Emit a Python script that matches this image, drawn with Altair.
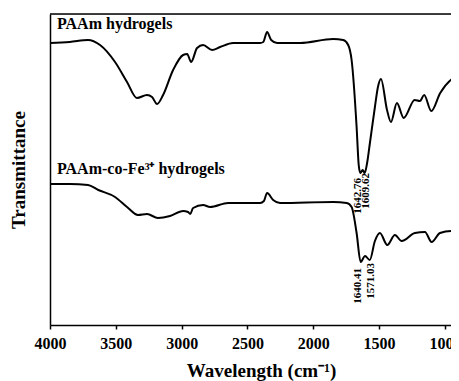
import altair as alt
import pandas as pd

# ---- data (wavenumber cm-1, transmittance a.u.) ----
paam_wn = [4000, 3850, 3711, 3620, 3506, 3415, 3340, 3263, 3225, 3187, 3141, 3065, 2989, 2958, 2928,
           2883, 2837, 2769, 2708, 2609, 2404, 2380, 2351, 2320, 2275, 2100, 1849, 1773, 1735, 1709,
           1671, 1655, 1642.76, 1625, 1609.62, 1590, 1570, 1532, 1509, 1486, 1440, 1410, 1365, 1313,
           1230, 1190, 1158, 1104, 1036, 937, 892]
paam_t = [282, 283, 285, 280, 263, 243, 227, 230, 228, 221, 230, 255, 270, 271, 263,
          277, 280, 275, 278, 282, 282, 283, 293, 285, 282, 282, 286, 285, 280, 265,
          198, 160, 152, 155, 152, 163, 182, 218, 238, 246, 215, 203, 222, 207,
          225, 224, 230, 214, 232, 247, 250]

fe_wn = [4000, 3850, 3711, 3633, 3506, 3415, 3332, 3263, 3180, 3088, 2989, 2951, 2935, 2913, 2837,
         2784, 2647, 2404, 2375, 2351, 2305, 2253, 1849, 1746, 1709, 1671, 1640.41, 1607, 1571.03,
         1532, 1494, 1438, 1380, 1329, 1228, 1152, 1101, 1038, 949, 892]
fe_t = [141, 141, 140, 135, 128, 118, 110, 111, 107, 109, 114, 113, 111, 117, 120,
        118, 122, 122, 124, 132, 125, 122, 123, 122, 118, 92, 63, 69, 65,
        84, 92, 80, 90, 84, 92, 93, 83, 92, 94, 92]

series_names = ["PAAm hydrogels", "PAAm-co-Fe\u00b3\u207a hydrogels"]
series_label_wn = [3947, 3947]
series_label_t = [296, 151]

peak_labels = ["1642.76", "1609.62", "1640.41", "1571.03"]
peak_wn = [1642.76, 1609.62, 1640.41, 1571.03]
peak_t = [147, 152, 57, 62]
peak_side = ["left", "right", "left", "right"]

x_ticks = [4000, 3500, 3000, 2500, 2000, 1500, 1000]

FONT = "Liberation Serif"
X_DOMAIN = [4000, 954]
Y_DOMAIN = [0, 311]

rows = []
for i, (w, t) in enumerate(zip(paam_wn, paam_t)):
    rows.append({"wn": w, "t": t, "series": series_names[0], "idx": i})
for i, (w, t) in enumerate(zip(fe_wn, fe_t)):
    rows.append({"wn": w, "t": t, "series": series_names[1], "idx": i})
df = pd.DataFrame(rows)

xscale = alt.Scale(domain=X_DOMAIN, nice=False, zero=False)
yscale = alt.Scale(domain=Y_DOMAIN, nice=False, zero=False)

xaxis = alt.Axis(values=x_ticks, format="d", grid=False, tickSize=4, tickColor="black",
                 domainColor="black", domainWidth=1.5, tickWidth=1.5,
                 labelFont=FONT, labelFontSize=16, labelFontWeight="bold", labelColor="black",
                 labelPadding=6, labelFlush=False,
                 title="Wavelength (cm\u207b\u00b9)", titleFont=FONT, titleFontSize=19,
                 titleFontWeight="bold", titleColor="black", titleX=211, titleY=36,
                 titleBaseline="top")
yaxis = alt.Axis(labels=False, ticks=False, grid=False, domainColor="black", domainWidth=1.5,
                 title="Transmittance", titleFont=FONT, titleFontSize=19, titleFontWeight="bold",
                 titleColor="black", titlePadding=22)

lines = alt.Chart(df).mark_line(color="black", strokeWidth=2, interpolate="monotone", clip=True).encode(
    x=alt.X("wn:Q", scale=xscale, axis=xaxis),
    y=alt.Y("t:Q", scale=yscale, axis=yaxis),
    detail="series:N",
    order="idx:Q",
)

top_rule = alt.Chart(pd.DataFrame({"a": [0]})).mark_rule(color="black", strokeWidth=1.5).encode(
    y=alt.datum(Y_DOMAIN[1], scale=yscale)
)

sl = pd.DataFrame({"name": series_names, "wn": series_label_wn, "t": series_label_t})
series_text = alt.Chart(sl).mark_text(font=FONT, fontSize=16, fontWeight="bold", color="black",
                                       align="left", baseline="alphabetic").encode(
    x=alt.X("wn:Q", scale=xscale), y=alt.Y("t:Q", scale=yscale), text="name:N"
)

pk = pd.DataFrame({"label": peak_labels, "wn": peak_wn, "t": peak_t, "side": peak_side})
peak_layers = []
for side, dy in [("left", -2.5), ("right", 1.5)]:
    peak_layers.append(
        alt.Chart(pk[pk["side"] == side]).mark_text(
            font=FONT, fontSize=11, fontWeight="bold", color="black", angle=270,
            align="right", baseline="middle", dy=dy
        ).encode(x=alt.X("wn:Q", scale=xscale), y=alt.Y("t:Q", scale=yscale), text="label:N")
    )

chart = alt.layer(lines, top_rule, series_text, *peak_layers).properties(
    width=401, height=311,
    autosize=alt.AutoSizeParams(type="none"),
    padding={"left": 42, "top": 6, "right": 0, "bottom": 56},
).configure_view(stroke=None).configure(background="white")

chart.save("out.html", embed_options={"renderer": "svg", "actions": False})
